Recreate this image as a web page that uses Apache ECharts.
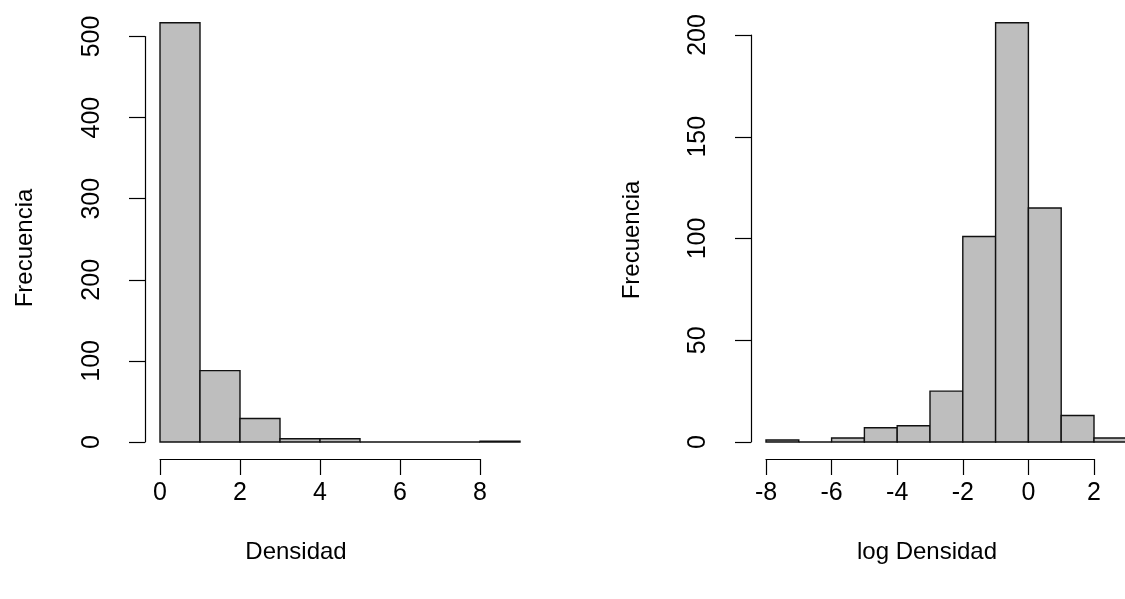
<!DOCTYPE html>
<html>
<head>
<meta charset="utf-8">
<script src="https://cdn.jsdelivr.net/npm/echarts@6/dist/echarts.min.js"></script>
<style>
  html, body { margin: 0; padding: 0; background: #fff; }
  #chart { width: 1125px; height: 599px; }
</style>
</head>
<body>
<div id="chart"></div>
<script>
// Histogram of densities (left) and of log densities (right)
var densBreaks = [0, 1, 2, 3, 4, 5, 6, 7, 8, 9];
var densCounts = [517, 88, 29, 4, 4, 0, 0, 0, 1];

var logBreaks = [-8, -7, -6, -5, -4, -3, -2, -1, 0, 1, 2, 3];
var logCounts = [1, 0, 2, 7, 8, 25, 101, 206, 115, 13, 2];

var densXTicks = { min: 0, max: 8, step: 2 };
var densYTicks = { min: 0, max: 500, step: 100 };
var logXTicks = { min: -8, max: 2, step: 2 };
var logYTicks = { min: 0, max: 200, step: 50 };

var FONT = '"Liberation Sans", Arial, sans-serif';
var FS_TICK = 25;
var FS_TITLE = 24;

function bins(breaks, counts) {
  var out = [];
  for (var i = 0; i < counts.length; i++) {
    out.push([breaks[i], breaks[i + 1], counts[i]]);
  }
  return out;
}

function renderBin(params, api) {
  var top = api.coord([api.value(0), api.value(2)]);
  var base = api.coord([api.value(1), 0]);
  return {
    type: 'rect',
    shape: { x: top[0], y: top[1], width: base[0] - top[0], height: base[1] - top[1] },
    style: { fill: '#bebebe', stroke: '#111', lineWidth: 1.4 }
  };
}

function xAxisOf(gridIndex, t) {
  return {
    type: 'value', gridIndex: gridIndex, min: t.min, max: t.max, interval: t.step,
    position: 'bottom', offset: 17,
    axisLine: { show: true, onZero: false, lineStyle: { color: '#000', width: 1.2 } },
    axisTick: { show: true, length: 16, lineStyle: { color: '#000', width: 1.2 } },
    axisLabel: { margin: 22, color: '#000', fontSize: FS_TICK, fontFamily: FONT },
    splitLine: { show: false }
  };
}

function yAxisOf(gridIndex, t) {
  return {
    type: 'value', gridIndex: gridIndex, min: t.min, max: t.max, interval: t.step,
    position: 'left', offset: 15,
    axisLine: { show: true, onZero: false, lineStyle: { color: '#000', width: 1.2 } },
    axisTick: { show: true, length: 16, lineStyle: { color: '#000', width: 1.2 } },
    axisLabel: { rotate: 90, margin: 40, color: '#000', fontSize: FS_TICK, fontFamily: FONT },
    splitLine: { show: false }
  };
}

var chart = echarts.init(document.getElementById('chart'), null, { renderer: 'canvas' });

function title(text, x, y, vertical) {
  return {
    type: 'text', x: x, y: y, rotation: vertical ? Math.PI / 2 : 0,
    style: { text: text, font: FS_TITLE + 'px ' + FONT, fill: '#000', textAlign: 'center', textVerticalAlign: 'middle' }
  };
}

chart.setOption({
  animation: false,
  backgroundColor: '#fff',
  grid: [
    { left: 160, width: 320, top: 36.5, bottom: 157 },
    { left: 766, width: 328, top: 35, bottom: 157 }
  ],
  xAxis: [xAxisOf(0, densXTicks), xAxisOf(1, logXTicks)],
  yAxis: [yAxisOf(0, densYTicks), yAxisOf(1, logYTicks)],
  series: [
    {
      type: 'custom', xAxisIndex: 0, yAxisIndex: 0, clip: false,
      renderItem: renderBin, encode: { x: [0, 1], y: 2 },
      data: bins(densBreaks, densCounts)
    },
    {
      type: 'custom', xAxisIndex: 1, yAxisIndex: 1, clip: false,
      renderItem: renderBin, encode: { x: [0, 1], y: 2 },
      data: bins(logBreaks, logCounts)
    }
  ],
  graphic: [
    title('Densidad', 296, 552, false),
    title('log Densidad', 927, 552, false),
    title('Frecuencia', 25, 248, true),
    title('Frecuencia', 632, 240, true)
  ]
});
</script>
</body>
</html>
